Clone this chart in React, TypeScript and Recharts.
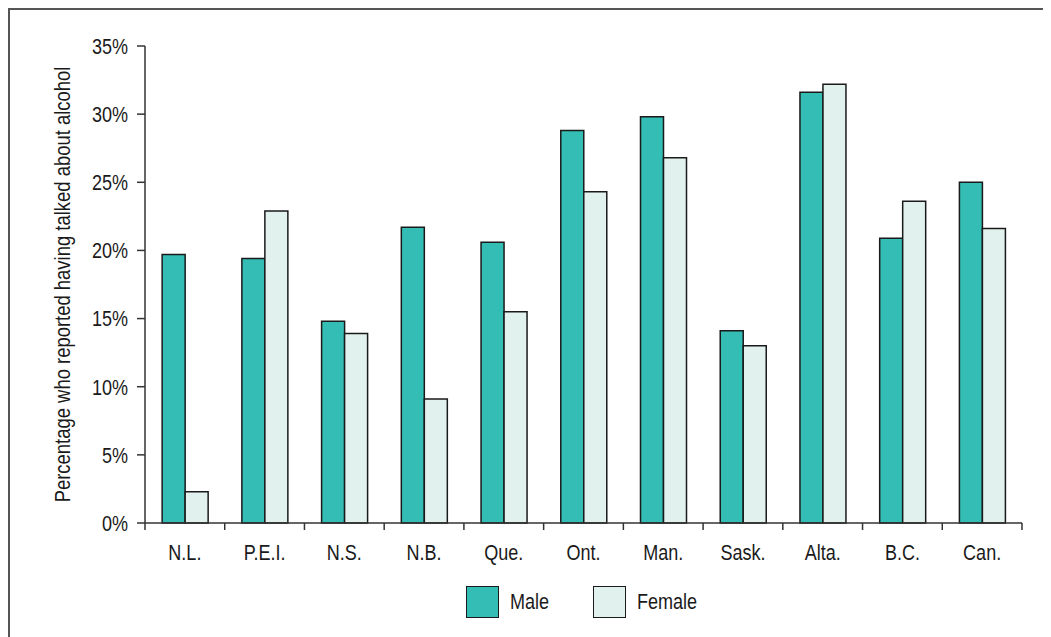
import React from "react";
import { BarChart, Bar, XAxis, YAxis, Legend, Label } from "recharts";

// ── Data ──
const provinces = ["N.L.", "P.E.I.", "N.S.", "N.B.", "Que.", "Ont.", "Man.", "Sask.", "Alta.", "B.C.", "Can."];
const maleValues = [19.7, 19.4, 14.8, 21.7, 20.6, 28.8, 29.8, 14.1, 31.6, 20.9, 25.0];
const femaleValues = [2.3, 22.9, 13.9, 9.1, 15.5, 24.3, 26.8, 13.0, 32.2, 23.6, 21.6];
const yTicks = [0, 5, 10, 15, 20, 25, 30, 35];

const data = provinces.map((name, i) => ({
  name,
  male: maleValues[i],
  female: femaleValues[i],
}));

// ── Layout ──
const W = 1041;
const H = 627;
const MARGIN = { top: 36, right: 29, bottom: 84, left: 75 };
const Y_AXIS_W = 60;
const PLOT_W = W - MARGIN.left - MARGIN.right - Y_AXIS_W;
const BAND = PLOT_W / provinces.length;

const MALE_COLOR = "#33bdb5";
const FEMALE_COLOR = "#e1f2ee";
const EDGE = "#1a1a1a";
const AXIS = "#333";
const INK = "#1a1a1a";
const FONT = "'Liberation Sans', Arial, sans-serif";
// the original uses a condensed face; squeeze the regular one horizontally
const NARROW = 0.82;

// ── X tick: label at band centre, tick marks on band boundaries ──
function CategoryTick({ x, y, payload, index }: { x?: number; y?: number; payload?: { value: string }; index?: number }) {
  const cx = x || 0;
  const cy = y || 0;
  return (
    <g>
      <line x1={cx - BAND / 2} x2={cx - BAND / 2} y1={cy} y2={cy + 7} stroke={AXIS} strokeWidth={1.5} />
      {index === provinces.length - 1 && (
        <line x1={cx + BAND / 2} x2={cx + BAND / 2} y1={cy} y2={cy + 7} stroke={AXIS} strokeWidth={1.5} />
      )}
      <text
        transform={`translate(${cx}, ${cy + 37}) scale(${NARROW}, 1)`}
        textAnchor="middle"
        fontSize={22}
        fill={INK}
      >
        {payload?.value}
      </text>
    </g>
  );
}

// ── Y tick ──
function ValueTick({ x, y, payload }: { x?: number; y?: number; payload?: { value: number } }) {
  return (
    <text
      transform={`translate(${x || 0}, ${y || 0}) scale(${NARROW}, 1)`}
      textAnchor="end"
      dy="0.36em"
      fontSize={22}
      fill={INK}
    >
      {`${payload?.value}%`}
    </text>
  );
}

// ── Rotated y-axis title ──
function YTitle({ viewBox }: { viewBox?: { x?: number; y?: number; width?: number; height?: number } }) {
  const x = (viewBox?.x || 0) - 23;
  const y = (viewBox?.y || 0) + (viewBox?.height || 0) / 2;
  return (
    <text
      transform={`translate(${x}, ${y}) rotate(-90) scale(${NARROW}, 1)`}
      textAnchor="middle"
      dominantBaseline="central"
      fontSize={22.5}
      fill={INK}
    >
      Percentage who reported having talked about alcohol
    </text>
  );
}

// ── Legend ──
function LegendContent() {
  const items = [
    { label: "Male", color: MALE_COLOR, gap: 43 },
    { label: "Female", color: FEMALE_COLOR, gap: 0 },
  ];
  return (
    <div style={{ display: "flex", alignItems: "center" }}>
      {items.map((it) => (
        <div key={it.label} style={{ display: "flex", alignItems: "center" }}>
          <div
            style={{
              width: 31,
              height: 30,
              background: it.color,
              border: `1.5px solid ${EDGE}`,
              marginRight: 11,
            }}
          />
          <span
            style={{
              display: "inline-block",
              width: it.label === "Male" ? 40 + it.gap : 70,
              fontSize: 22,
              color: INK,
              fontFamily: FONT,
              transform: `scaleX(${NARROW})`,
              transformOrigin: "left center",
            }}
          >
            {it.label}
          </span>
        </div>
      ))}
    </div>
  );
}

export default function App() {
  return (
    <div
      style={{
        width: W,
        height: H,
        borderTop: "2px solid #555",
        borderLeft: "2px solid #555",
        fontFamily: FONT,
        background: "#fff",
      }}
    >
      <BarChart
        width={W}
        height={H}
        data={data}
        margin={MARGIN}
        barCategoryGap="21.5%"
        barGap={0}
      >
        <XAxis
          dataKey="name"
          axisLine={{ stroke: AXIS, strokeWidth: 1.5 }}
          tickLine={false}
          tickSize={0}
          tickMargin={0}
          height={30}
          interval={0}
          tick={<CategoryTick />}
        />
        <YAxis
          width={Y_AXIS_W}
          domain={[0, 35]}
          ticks={yTicks}
          interval={0}
          axisLine={{ stroke: AXIS, strokeWidth: 1.5 }}
          tickLine={{ stroke: AXIS, strokeWidth: 1.5 }}
          tickSize={8}
          tickMargin={9}
          tick={<ValueTick />}
        >
          <Label content={<YTitle />} />
        </YAxis>
        <Legend
          layout="horizontal"
          verticalAlign="middle"
          align="center"
          content={<LegendContent />}
          wrapperStyle={{ top: 576, left: 456, width: 320, height: 34 }}
        />
        <Bar dataKey="male" name="Male" fill={MALE_COLOR} stroke={EDGE} strokeWidth={1.5} isAnimationActive={false} />
        <Bar dataKey="female" name="Female" fill={FEMALE_COLOR} stroke={EDGE} strokeWidth={1.5} isAnimationActive={false} />
      </BarChart>
    </div>
  );
}
